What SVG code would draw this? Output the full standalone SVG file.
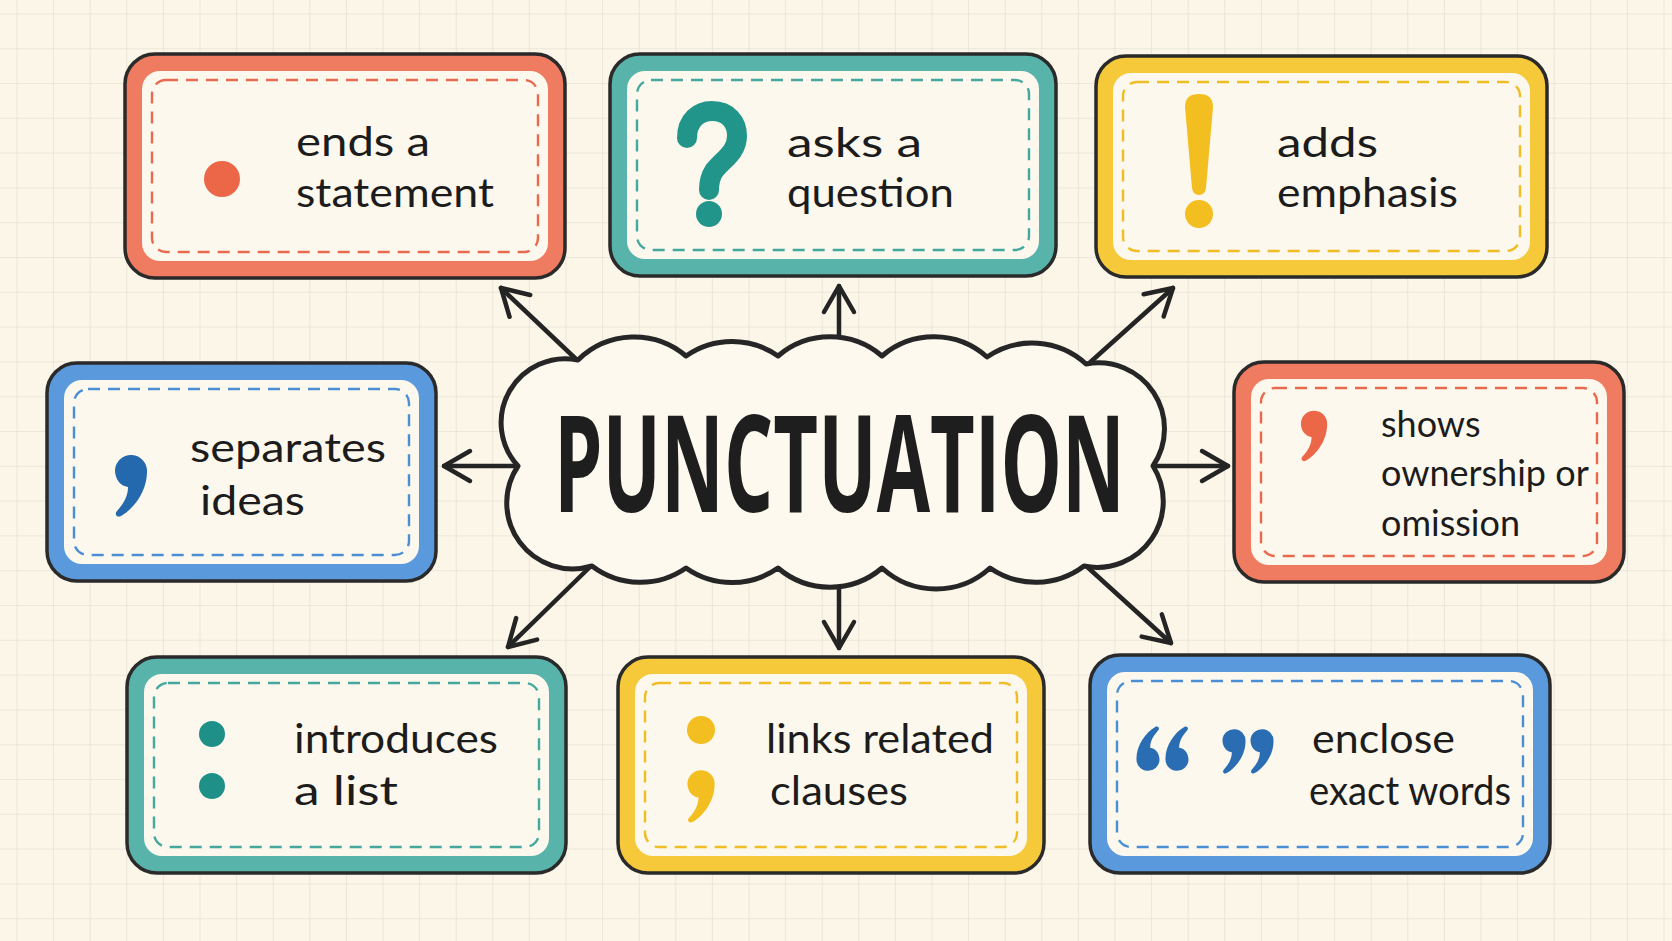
<svg xmlns="http://www.w3.org/2000/svg" xmlns:xlink="http://www.w3.org/1999/xlink" width="1672" height="941" viewBox="0 0 1672 941">
<style>
.bg{fill:#fbf6e8}
.band{stroke:#2a2a2a;stroke-width:3.5}
.cream{fill:#fcf8ed}
.dash{fill:none;stroke-width:2.4;stroke-dasharray:12 8}
.red .band{fill:#ef7b60}.red .dash{stroke:#e9694e}
.teal .band{fill:#58b4aa}.teal .dash{stroke:#45a89e}
.yel .band{fill:#f6c93b}.yel .dash{stroke:#efbd25}
.blue .band{fill:#5a99dc}.blue .dash{stroke:#4a8fd6}
.lbl{font-family:Lato,"Open Sans",sans-serif;font-size:41px;fill:#1c1c1c}
.sm{font-size:36px}
.conn{fill:none;stroke:#242424;stroke-width:4.5;stroke-linecap:round}
.title{font-family:"Open Sans","Liberation Sans",sans-serif;font-weight:700;font-size:134px;fill:#1e1e1e}
</style>
<defs>
<pattern id="grid" x="16.5" y="13.4" width="36.6" height="34.8" patternUnits="userSpaceOnUse">
<path d="M0 0 H36.6 M0 0 V34.8" fill="none" stroke="#e6e2d6" stroke-width="1.6"/>
</pattern>
<marker id="ah" markerUnits="userSpaceOnUse" markerWidth="40" markerHeight="40" viewBox="-35 -20 40 40" refX="0" refY="0" orient="auto" overflow="visible">
<path d="M -26 -15 L 0 0 L -26 15" fill="none" stroke="#242424" stroke-width="4.5" stroke-linecap="round" stroke-linejoin="round"/>
</marker>
<path id="comma" d="M -16 0 A 16 16 0 1 1 16 2 C 16 20 4 38 -10 46 C -14 48 -17 44 -14 41 C -7 33 -3 26 -3 17 C -11 16 -16 9 -16 0 Z"/>
</defs>
<rect class="bg" x="0" y="0" width="1672" height="941"/>
<rect x="0" y="0" width="1672" height="941" fill="url(#grid)"/>

<g id="connectors">
<path class="conn" marker-end="url(#ah)" d="M577 360 L501 288"/>
<path class="conn" marker-end="url(#ah)" d="M839 339 L839 286"/>
<path class="conn" marker-end="url(#ah)" d="M1086 366 L1173 288"/>
<path class="conn" marker-end="url(#ah)" d="M518 466 L444 466"/>
<path class="conn" marker-end="url(#ah)" d="M1153 466 L1228 466"/>
<path class="conn" marker-end="url(#ah)" d="M592 565 L508 647"/>
<path class="conn" marker-end="url(#ah)" d="M839 585 L839 648"/>
<path class="conn" marker-end="url(#ah)" d="M1084 564 L1171 643"/>
</g>

<g id="center">
<path d="M578 360 A80 80 0 0 1 686 356 A80 80 0 0 1 778 356 A80 80 0 0 1 882 356 A80 80 0 0 1 987 357 A80 80 0 0 1 1086 364 A66 66 0 0 1 1153 466 A66 66 0 0 1 1084 566 A80 80 0 0 1 990 568 A80 80 0 0 1 882 568 A80 80 0 0 1 778 568 A80 80 0 0 1 686 568 A80 80 0 0 1 592 566 A66 66 0 0 1 518 466 A64 64 0 0 1 578 360 Z" fill="#fdf9ef" stroke="#262626" stroke-width="5" stroke-linejoin="round"/>
<text class="title" x="554" y="512" textLength="571" lengthAdjust="spacingAndGlyphs">PUNCTUATION</text>
</g>

<g id="period" class="red">
<rect class="band" x="125" y="54" width="440" height="224" rx="30"/>
<rect class="cream" x="142" y="71" width="406" height="190" rx="18"/>
<rect class="dash" x="152" y="80" width="386" height="172" rx="14"/>
<circle cx="222" cy="179" r="18" fill="#ec6747"/>
<text class="lbl" x="296" y="156" textLength="134" lengthAdjust="spacingAndGlyphs">ends a</text>
<text class="lbl" x="296" y="207" textLength="198" lengthAdjust="spacingAndGlyphs">statement</text>
</g>

<g id="question" class="teal">
<rect class="band" x="610" y="54" width="446" height="222" rx="30"/>
<rect class="cream" x="627" y="71" width="412" height="188" rx="18"/>
<rect class="dash" x="637" y="80" width="392" height="170" rx="14"/>
<path d="M687 138 C687 120 699 111 712 111 C728 111 737 122 737 136 C737 153 722 160 714 171 C710 177 709 183 709 190" fill="none" stroke="#22958b" stroke-width="20" stroke-linecap="round"/>
<circle cx="709" cy="214" r="13" fill="#22958b"/>
<text class="lbl" x="787" y="157" textLength="135" lengthAdjust="spacingAndGlyphs">asks a</text>
<text class="lbl" x="787" y="207" textLength="167" lengthAdjust="spacingAndGlyphs">question</text>
</g>

<g id="exclamation" class="yel">
<rect class="band" x="1096" y="56" width="451" height="221" rx="30"/>
<rect class="cream" x="1113" y="73" width="417" height="187" rx="18"/>
<rect class="dash" x="1123" y="82" width="397" height="169" rx="14"/>
<path d="M1185 107 Q1185 94 1199 94 Q1213 94 1213 107 L1206 188 Q1205 195 1199 195 Q1193 195 1192 188 Z" fill="#f3be1f"/>
<circle cx="1199" cy="214" r="14" fill="#f3be1f"/>
<text class="lbl" x="1277" y="157" textLength="101" lengthAdjust="spacingAndGlyphs">adds</text>
<text class="lbl" x="1277" y="207" textLength="181" lengthAdjust="spacingAndGlyphs">emphasis</text>
</g>

<g id="comma-node" class="blue">
<rect class="band" x="47" y="363" width="389" height="218" rx="30"/>
<rect class="cream" x="64" y="380" width="355" height="184" rx="18"/>
<rect class="dash" x="74" y="389" width="335" height="166" rx="14"/>
<use href="#comma" xlink:href="#comma" transform="translate(131,470)" fill="#2468ad"/>
<text class="lbl" x="190" y="462" textLength="196" lengthAdjust="spacingAndGlyphs">separates</text>
<text class="lbl" x="200" y="515" textLength="105" lengthAdjust="spacingAndGlyphs">ideas</text>
</g>

<g id="apostrophe" class="red">
<rect class="band" x="1234" y="362" width="390" height="220" rx="30"/>
<rect class="cream" x="1251" y="379" width="356" height="186" rx="18"/>
<rect class="dash" x="1261" y="388" width="336" height="168" rx="14"/>
<use href="#comma" xlink:href="#comma" transform="translate(1314,423) scale(0.82)" fill="#ec6747"/>
<text class="lbl sm" x="1381" y="437">shows</text>
<text class="lbl sm" x="1381" y="486">ownership or</text>
<text class="lbl sm" x="1381" y="536">omission</text>
</g>

<g id="colon" class="teal">
<rect class="band" x="127" y="657" width="439" height="216" rx="30"/>
<rect class="cream" x="144" y="674" width="405" height="182" rx="18"/>
<rect class="dash" x="154" y="683" width="385" height="164" rx="14"/>
<circle cx="212" cy="734" r="13" fill="#1f9088"/>
<circle cx="212" cy="786" r="13" fill="#1f9088"/>
<text class="lbl" x="294" y="753" textLength="204" lengthAdjust="spacingAndGlyphs">introduces</text>
<text class="lbl" x="294" y="805" textLength="104" lengthAdjust="spacingAndGlyphs">a list</text>
</g>

<g id="semicolon" class="yel">
<rect class="band" x="618" y="657" width="426" height="216" rx="30"/>
<rect class="cream" x="635" y="674" width="392" height="182" rx="18"/>
<rect class="dash" x="645" y="683" width="372" height="164" rx="14"/>
<circle cx="701" cy="730" r="14" fill="#f3be1f"/>
<use href="#comma" xlink:href="#comma" transform="translate(701,783) scale(0.85)" fill="#f3be1f"/>
<text class="lbl" x="766" y="753" textLength="228" lengthAdjust="spacingAndGlyphs">links related</text>
<text class="lbl" x="770" y="805" textLength="138" lengthAdjust="spacingAndGlyphs">clauses</text>
</g>

<g id="quotes" class="blue">
<rect class="band" x="1090" y="655" width="460" height="218" rx="30"/>
<rect class="cream" x="1107" y="672" width="426" height="184" rx="18"/>
<rect class="dash" x="1117" y="681" width="406" height="166" rx="14"/>
<use href="#comma" xlink:href="#comma" transform="translate(1148,760) rotate(180) scale(0.72)" fill="#2a6db3"/>
<use href="#comma" xlink:href="#comma" transform="translate(1177,760) rotate(180) scale(0.72)" fill="#2a6db3"/>
<use href="#comma" xlink:href="#comma" transform="translate(1234,740) scale(0.72)" fill="#2a6db3"/>
<use href="#comma" xlink:href="#comma" transform="translate(1262,740) scale(0.72)" fill="#2a6db3"/>
<text class="lbl" x="1312" y="753" textLength="143" lengthAdjust="spacingAndGlyphs">enclose</text>
<text class="lbl" x="1309" y="805" textLength="202" lengthAdjust="spacingAndGlyphs">exact words</text>
</g>
</svg>
